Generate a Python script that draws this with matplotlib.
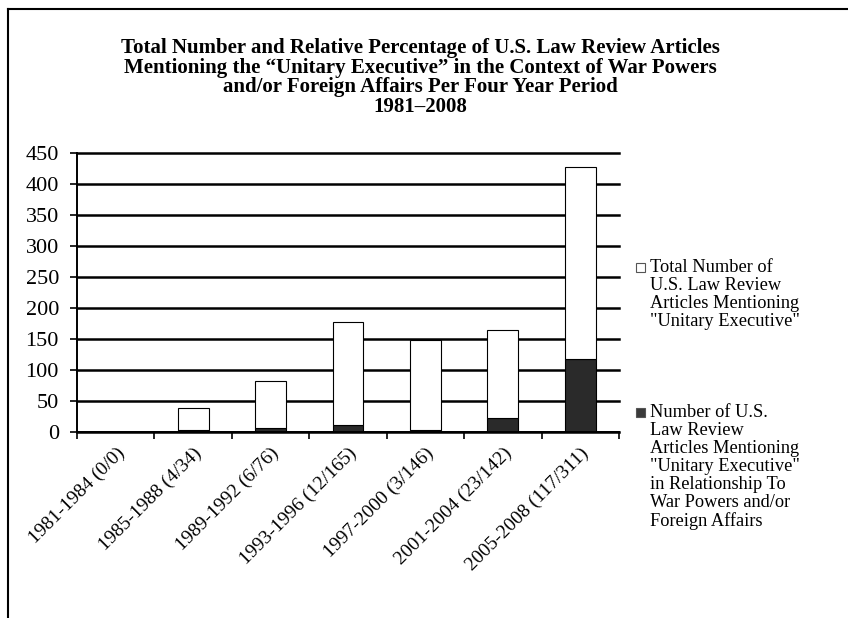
import matplotlib
matplotlib.use("Agg")
import matplotlib.pyplot as plt
from matplotlib.patches import Rectangle
from matplotlib.lines import Line2D
import numpy as np

plt.rcParams['font.family'] = ['Liberation Serif', 'DejaVu Serif']

categories = ["1981-1984 (0/0)", "1985-1988 (4/34)", "1989-1992 (6/76)",
              "1993-1996 (12/165)", "1997-2000 (3/146)", "2001-2004 (23/142)",
              "2005-2008 (117/311)"]
war_powers = [0, 4, 6, 12, 3, 23, 117]
other_total = [0, 34, 76, 165, 146, 142, 311]
yticks = [0, 50, 100, 150, 200, 250, 300, 350, 400, 450]

title = ("Total Number and Relative Percentage of U.S. Law Review Articles\n"
         "Mentioning the \u201cUnitary Executive\u201d in the Context of War Powers\n"
         "and/or Foreign Affairs Per Four Year Period\n"
         "1981\u20132008")
label_total = 'Total Number of\nU.S. Law Review\nArticles Mentioning\n"Unitary Executive"'
label_war = ('Number of U.S.\nLaw Review\nArticles Mentioning\n"Unitary Executive"\n'
             'in Relationship To\nWar Powers and/or\nForeign Affairs')

W, H = 848, 618
fig = plt.figure(figsize=(W/100, H/100), dpi=100)
ax = fig.add_axes([77/W, 1-432/H, (619-77)/W, (432-153)/H])

x = np.arange(len(categories))
ax.set_axisbelow(True)
ax.yaxis.grid(True, color='black', linewidth=1.8)
ax.bar(x, war_powers, width=0.4, color='#2a2a2a', edgecolor='black', linewidth=0.8)
ax.bar(x, other_total, width=0.4, bottom=war_powers, color='white', edgecolor='black', linewidth=0.8)

ax.set_xlim(-0.5, len(categories) - 0.5)
ax.set_ylim(0, 450)
ax.set_yticks(yticks)
for gl in ax.get_ygridlines():
    gl.set_clip_on(False)
ax.tick_params(axis='y', labelsize=16, length=5, width=1.2, direction='out', pad=8)
ax.set_xticks(x)
ax.set_xticklabels(categories, rotation=45, ha='right', va='top', rotation_mode='anchor', fontsize=14)
ax.tick_params(axis='x', which='major', length=0, pad=9)
ax.set_xticks(np.arange(len(categories) + 1) - 0.5, minor=True)
ax.tick_params(axis='x', which='minor', length=5, width=1.2, direction='out')
for s in ['top', 'right']:
    ax.spines[s].set_visible(False)
ax.spines['left'].set_linewidth(1.4)
ax.spines['bottom'].set_linewidth(1.4)

fig.text(420/W, 1-38/H, title, ha='center', va='top', fontsize=15,
         fontweight='bold', linespacing=0.97)

# legend (manual, marker aligned with the first text line)
leg_items = [(label_total, 'white', 262), (label_war, '#3a3a3a', 407)]
for lab, col, ytop in leg_items:
    fig.add_artist(Rectangle((636/W, 1-(ytop+10)/H), 9/W, 9/H, facecolor=col,
                             edgecolor='#555555', linewidth=0.8, transform=fig.transFigure))
    fig.text(650/W, 1-(ytop-3)/H, lab, ha='left', va='top', fontsize=13.2, linespacing=1.08)

fig.add_artist(Line2D([8/W, 1], [1-9/H, 1-9/H], color='black', linewidth=1.5, transform=fig.transFigure))
fig.add_artist(Line2D([8/W, 8/W], [0, 1-9/H], color='black', linewidth=1.5, transform=fig.transFigure))

fig.savefig("out.png", dpi=100)
